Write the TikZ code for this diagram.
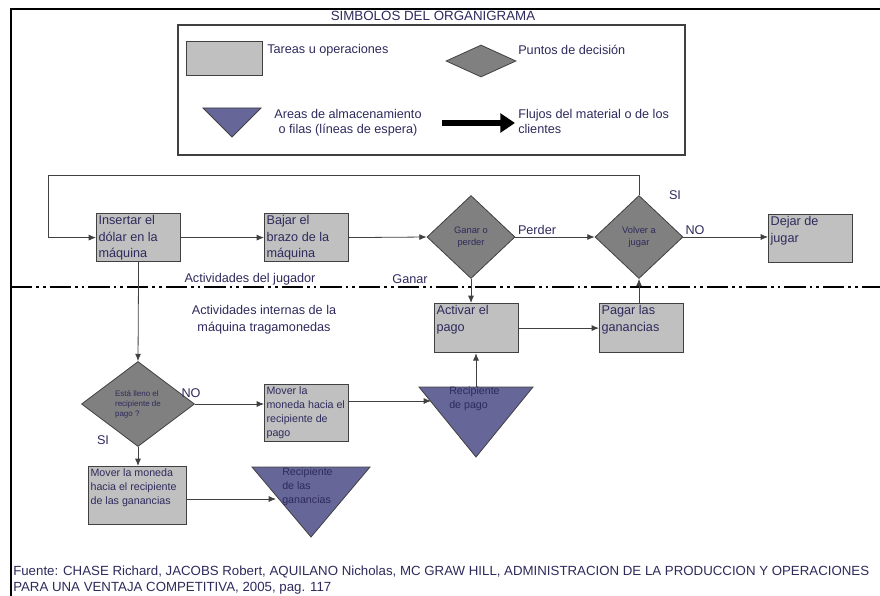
\documentclass[tikz,border=0pt]{standalone}
\usepackage{fontspec}
\setmainfont{Liberation Sans}
\usetikzlibrary{arrows.meta}
\usetikzlibrary{shapes.geometric,positioning}
\definecolor{cajagris}{HTML}{C0C0C0}
\definecolor{rombogris}{HTML}{808080}
\definecolor{filamorado}{HTML}{666699}
\definecolor{bordegris}{HTML}{404040}
\definecolor{textoazul}{HTML}{2E2A5C}
\newcommand{\caja}[3]{\parbox[c][#2][t]{#1}{\raggedright #3}}
\tikzset{font={\fontsize{9.5pt}{12.4pt}\selectfont}}

\begin{document}
\begin{tikzpicture}[x=0.75pt,y=-0.75pt,
  tarea/.style={draw=bordegris, fill=cajagris, line width=0.9pt, inner sep=1.5pt, anchor=north west, text=textoazul},
  decision/.style={diamond, draw=bordegris, fill=rombogris, line width=0.6pt, inner sep=0pt, align=center, text=textoazul, font={\fontsize{7pt}{9pt}\selectfont}},
  almacen/.style={draw=bordegris, fill=filamorado, line width=0.6pt},
  flujo/.style={draw=bordegris, line width=0.6pt, -{Latex[length=5.5pt,width=4.5pt]}},
  etiqueta/.style={text=textoazul, inner sep=0pt},
  chica/.style={font={\fontsize{8pt}{10.5pt}\selectfont}},
  frontera/.style={line width=1.1pt, dash pattern=on 16pt off 3pt on 2pt off 3pt on 2pt off 3pt}]

  \useasboundingbox (0,0) rectangle (880,595);

  % Frame
  \draw[line width=1.1pt] (11,600) -- (11,9) -- (880,9);

  % Legend
  \node[etiqueta, font={\fontsize{10pt}{12pt}\selectfont}] (titulo) at (433,16) {SIMBOLOS DEL ORGANIGRAMA};
  \node[draw=bordegris, line width=0.9pt, minimum width=380.25pt, minimum height=97.5pt] (leyenda) at (431.5,90) {};
  \node[tarea, minimum width=57pt, minimum height=25.5pt] (simtarea) at (186,41) {};
  \node[etiqueta, anchor=west] (txttarea) at (267,50) {Tareas u operaciones};
  \node[decision, minimum width=52.5pt, minimum height=24pt] (simdecision) at (481,61) {};
  \node[etiqueta, anchor=west] (txtdecision) at (518,50) {Puntos de decisión};
  \coordinate (simA) at (203,108);
  \coordinate (simB) at (261,108);
  \coordinate (simC) at (232,137);
  \draw[almacen] (simA) -- (simB) -- (simC) -- cycle;
  \node[etiqueta, align=center, font={\fontsize{9.5pt}{11.3pt}\selectfont}] (txtalmacen) at (348,123) {Areas de almacenamiento\\o filas (líneas de espera)};
  \coordinate (simflujoA) at (442,123);
  \coordinate (simflujoB) at (515,123);
  \draw[line width=4.5pt, -{Triangle[length=11pt,width=14pt]}] (simflujoA) -- (simflujoB);
  \node[etiqueta, anchor=north west, align=left, font={\fontsize{9.5pt}{11.3pt}\selectfont}] (txtflujo) at (518,109) {Flujos del material o de los\\clientes};

  % Define nodes
  \node[tarea] (insertar) at (96,213) {\caja{60pt}{33pt}{Insertar el\\dólar en la\\máquina}};
  \node[tarea] (bajar) at (264,213) {\caja{60pt}{33pt}{Bajar el\\brazo de la\\máquina}};
  \node[decision, minimum width=66pt, minimum height=62.25pt] (ganar) at (471,237) {Ganar o\\perder};
  \node[decision, minimum width=66pt, minimum height=62.25pt] (volver) at (639,237) {Volver a\\jugar};
  \node[tarea] (dejar) at (768,214) {\caja{60pt}{33pt}{Dejar de\\jugar}};
  \node[tarea] (activar) at (434,303) {\caja{60pt}{33.75pt}{Activar el\\pago}};
  \node[tarea] (pagar) at (599,303) {\caja{60pt}{33.75pt}{Pagar las\\ganancias}};
  \node[decision, align=left, minimum width=84.75pt, minimum height=63.75pt, font={\fontsize{6pt}{7.5pt}\selectfont}] (esta) at (138,404) {Está lleno el\\recipiente de\\pago ?};
  \node[tarea, chica] (moverpago) at (264,384) {\caja{60pt}{39.75pt}{Mover la\\moneda hacia el\\recipiente de\\pago}};
  \node[tarea, chica] (moverganancias) at (88,466) {\caja{70.5pt}{40.5pt}{Mover la moneda\\hacia el recipiente\\de las ganancias}};

  % Storage triangles
  \coordinate (pagoA) at (419,387);
  \coordinate (pagoB) at (533,387);
  \coordinate (pagoC) at (476,457);
  \draw[almacen] (pagoA) -- (pagoB) -- (pagoC) -- cycle;
  \node[etiqueta, chica, anchor=north west, align=left] (recpago) at (449,387) {Recipiente\\de pago};
  \coordinate (ganA) at (252,467);
  \coordinate (ganB) at (370,467);
  \coordinate (ganC) at (311,537);
  \draw[almacen] (ganA) -- (ganB) -- (ganC) -- cycle;
  \node[etiqueta, chica, anchor=north west, align=left] (recganancias) at (282,467) {Recipiente\\de las\\ganancias};

  % Labels
  \node[etiqueta] (lsi) at (675,195) {SI};
  \node[etiqueta] (lno) at (695,230) {NO};
  \node[etiqueta] (lperder) at (537,230) {Perder};
  \node[etiqueta] (lganar) at (410,279) {Ganar};
  \node[etiqueta] (jugador) at (250,279) {Actividades del jugador};
  \node[etiqueta, align=center, font={\fontsize{9.5pt}{12.75pt}\selectfont}] (internas) at (264,320) {Actividades internas de la\\máquina tragamonedas};
  \node[etiqueta] (lno2) at (191,393) {NO};
  \node[etiqueta] (lsi2) at (103,440) {SI};

  % Divider
  \draw[frontera] (11,287) -- (880,287);

  % Connect the nodes
  \coordinate (bucle) at (48,175);
  \draw[flujo] (volver.north) |- (bucle) |- (insertar.west);
  \draw[flujo] (insertar.east) -- (bajar.west);
  \draw[flujo] (bajar.east) -- (ganar.west);
  \draw[flujo] (ganar.east) -- (volver.west);
  \draw[flujo] (volver.east) -- (volver.east -| dejar.west);
  \draw[flujo] (ganar.south) -- (ganar.south |- activar.north);
  \draw[flujo] (activar.east) -- (pagar.west);
  \draw[flujo] (pagar.north -| volver.south) -- (volver.south);
  \draw[flujo] (insertar.south) -- (esta.north);
  \draw[flujo] (esta.east) -- (esta.east -| moverpago.west);
  \draw[flujo] (esta.south) -- (esta.south |- moverganancias.north);
  \coordinate (pagoent) at (431,401);
  \draw[flujo] (pagoent -| moverpago.east) -- (pagoent);
  \coordinate (pagosal) at (476,387);
  \draw[flujo] (pagosal) -- (pagosal |- activar.south);
  \coordinate (ganent) at (276,499);
  \draw[flujo] (ganent -| moverganancias.east) -- (ganent);

  % Source
  \node[etiqueta, anchor=north west, align=left, font={\fontsize{9.95pt}{12pt}\selectfont}] (fuente) at (13,566) {Fuente: CHASE Richard, JACOBS Robert, AQUILANO Nicholas, MC GRAW HILL, ADMINISTRACION DE LA PRODUCCION Y OPERACIONES\\PARA UNA VENTAJA COMPETITIVA, 2005, pag. 117};
\end{tikzpicture}
\end{document}
